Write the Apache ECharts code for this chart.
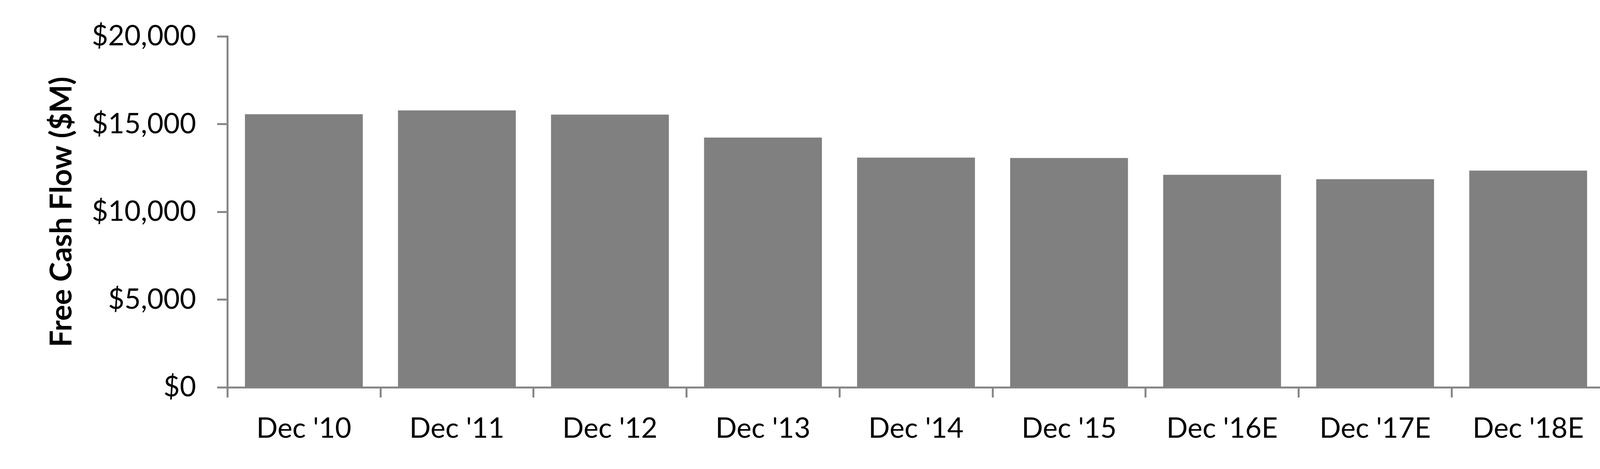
<!DOCTYPE html>
<html>
<head>
<meta charset="utf-8">
<script src="https://cdn.jsdelivr.net/npm/echarts@6/dist/echarts.min.js"></script>
<style>
html,body{margin:0;padding:0;background:#fff;}
#chart{width:4200px;height:1200px;}
</style>
</head>
<body>
<div id="chart"></div>
<script>
const categories = ["Dec '10", "Dec '11", "Dec '12", "Dec '13", "Dec '14", "Dec '15", "Dec '16E", "Dec '17E", "Dec '18E"];
const freeCashFlow = [15560, 15780, 15540, 14230, 13090, 13070, 12110, 11860, 12350];
const yAxisTitle = "Free Cash Flow ($M)";

const FONT = "Lato, 'Open Sans', sans-serif";
const AXIS_COLOR = "#878787";

const chart = echarts.init(document.getElementById('chart'), null, {renderer: 'canvas'});
chart.setOption({
  animation: false,
  backgroundColor: '#ffffff',
  grid: {left: 582, right: 92, top: 93, bottom: 209, containLabel: false},
  xAxis: {
    type: 'category',
    data: categories,
    boundaryGap: true,
    axisLine: {show: true, lineStyle: {color: AXIS_COLOR, width: 5}},
    axisTick: {show: true, length: 26, alignWithLabel: false, lineStyle: {color: AXIS_COLOR, width: 5}},
    axisLabel: {
      show: true, interval: 0, color: '#000', fontFamily: FONT, fontSize: 72,
      margin: 106, verticalAlign: 'middle', lineHeight: 72
    },
    splitLine: {show: false}
  },
  yAxis: {
    type: 'value',
    min: 0, max: 20000, interval: 5000,
    name: yAxisTitle,
    nameLocation: 'middle',
    nameRotate: 90,
    nameGap: 424,
    nameTextStyle: {color: '#000', fontFamily: FONT, fontSize: 76, fontWeight: 'bold', verticalAlign: 'middle', align: 'center'},
    axisLine: {show: true, lineStyle: {color: AXIS_COLOR, width: 5}},
    axisTick: {show: true, length: 26, lineStyle: {color: AXIS_COLOR, width: 5}},
    axisLabel: {
      color: '#000', fontFamily: FONT, fontSize: 72, margin: 80,
      formatter: v => '$' + v.toLocaleString('en-US')
    },
    splitLine: {show: false}
  },
  series: [{
    type: 'bar',
    data: freeCashFlow,
    barCategoryGap: '23%',
    itemStyle: {color: '#808080'},
    emphasis: {disabled: true}
  }]
});
</script>
</body>
</html>
